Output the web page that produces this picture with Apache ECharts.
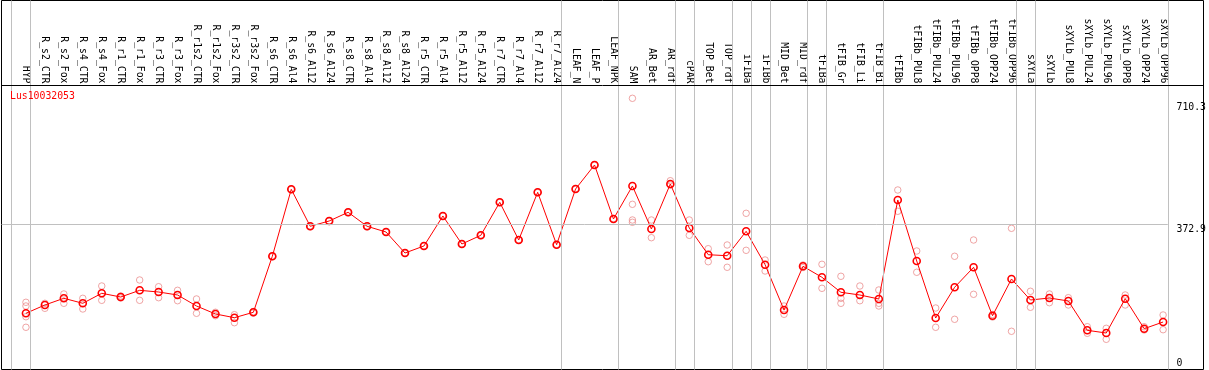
<!DOCTYPE html>
<html>
<head>
<meta charset="utf-8">
<script src="https://cdn.jsdelivr.net/npm/echarts@6/dist/echarts.min.js"></script>
<style>
html,body{margin:0;padding:0;background:#fff;}
#chart{width:1209px;height:370px;}
</style>
</head>
<body>
<div id="chart"></div>
<script>
const title = 'Lus10032053';
const categories = ['HYP','R_s2_CTR','R_s2_Fox','R_s4_CTR','R_s4_Fox','R_r1_CTR','R_r1_Fox','R_r3_CTR','R_r3_Fox','R_r1s2_CTR','R_r1s2_Fox','R_r3s2_CTR','R_r3s2_Fox','R_s6_CTR','R_s6_Al4','R_s6_Al12','R_s6_Al24','R_s8_CTR','R_s8_Al4','R_s8_Al12','R_s8_Al24','R_r5_CTR','R_r5_Al4','R_r5_Al12','R_r5_Al24','R_r7_CTR','R_r7_Al4','R_r7_Al12','R_r7_Al24','LEAF_N','LEAF_P','LEAF_NPK','SAM','AR_Bet','AR_rdf','cPAR','TOP_Bet','TOP_rdf','iFIBa','iFIBb','MID_Bet','MID_rdf','tFIBa','tFIB_Gr','tFIB_Li','tFIB_Bi','tFIBb','tFIBb_PUL8','tFIBb_PUL24','tFIBb_PUL96','tFIBb_OPP8','tFIBb_OPP24','tFIBb_OPP96','sXYLa','sXYLb','sXYLb_PUL8','sXYLb_PUL24','sXYLb_PUL96','sXYLb_OPP8','sXYLb_OPP24','sXYLb_OPP96'];
const means = [125.1,148.2,166.8,152.9,180.7,170.4,189.0,184.3,176.0,145.4,123.2,112.9,127.9,283.6,469.8,367.0,381.7,405.9,367.0,351.1,292.7,312.2,395.6,317.8,341.9,433.7,328.9,461.5,315.8,470.7,537.4,387.3,479.0,359.5,484.6,362.2,288.0,285.2,353.1,260.2,134.3,255.8,225.2,183.5,176.0,164.9,440.1,270.5,112.0,197.4,253.0,118.4,220.5,162.1,167.6,159.3,77.8,70.3,165.7,82.3,100.9];
const replicates = [
  [155.7,145.4,115.6,86.2],[152.9,139.0],[178.8,152.9],[166.8,137.1],[201.0,161.2],[173.2,167.6],[217.7,161.2],[199.0,168.5],[189.0,160.1],[164.9,125.1],[127.9,118.4],[121.2,99.0],[130.0,126.0],
  [284.5,282.7],[470.5,469.0],[368.0,366.0],[382.5,381.0],[407.0,405.0],[368.0,366.0],[352.0,350.2],[293.5,292.0],[313.0,311.4],[396.5,394.8],[318.6,317.0],[342.8,341.0],[434.5,433.0],[329.8,328.0],[462.4,460.6],[316.6,315.0],[471.5,470.0],[538.2,536.6],[388.2,386.4],
  [722.8,428.1,384.5,378.1],[384.5,335.3],[493.7,481.8],[384.5,341.9],[304.7,268.5],[315.0,253.0],[403.1,300.2],[273.3,242.7],[145.4,122.3],[259.4,252.4],
  [261.3,194.6],[228.0,166.8,152.9],[201.0,160.1],[189.9,152.9,145.4],[467.9,408.7],[298.3,239.1],[139.8,86.2],[283.6,108.4],[328.9,177.9],[121.8,114.8],[361.4,75.1],
  [186.3,141.8],[178.8,154.6],[168.5,148.2],[87.8,69.5],[83.4,52.8],[176.0,148.2],[87.8,78.7],[120.4,79.5]
];
const yTickValues = [0, 372.9, 710.3];
const refLineValue = 372.9;
const groupEnds = [-1, 0, 28, 31, 34, 35, 37, 38, 39, 41, 42, 45, 52, 53, 60];

const FONT = 'DejaVu Sans Mono';
const SEP_OFFSET = 0.247;
const headerLineValue = 758.4;

const meanData = means.map((v, i) => [i, v]);
const repData = [];
replicates.forEach((arr, i) => arr.forEach(v => repData.push([i, v])));

const sepLines = groupEnds.map(g => ({ xAxis: g + SEP_OFFSET, lineStyle: { color: '#c0c0c0', width: 1, type: 'solid' } }));
sepLines.push([{ coord: [-1.2895, refLineValue] }, { coord: [60 + SEP_OFFSET, refLineValue], lineStyle: { color: '#c0c0c0', width: 1, type: 'solid' } }]);
sepLines.push({ yAxis: headerLineValue, lineStyle: { color: '#000', width: 1, type: 'solid' } });

const chart = echarts.init(document.getElementById('chart'), null, { renderer: 'canvas' });
chart.setOption({
  animation: false,
  backgroundColor: '#fff',
  title: {
    text: title, left: 10, top: 91, padding: 0,
    textStyle: { color: '#ff0000', fontFamily: FONT, fontSize: 9.8, fontWeight: 'normal' }
  },
  grid: { left: 1.5, top: 0.5, right: 2.5, bottom: 0.5, show: true, borderColor: '#000', borderWidth: 1, backgroundColor: 'transparent' },
  xAxis: {
    type: 'value', position: 'top', min: -1.2895, max: 62.1316, offset: -84,
    axisLine: { show: false, onZero: false }, axisTick: { show: false }, splitLine: { show: false },
    axisLabel: {
      rotate: 90, margin: 1,
      customValues: categories.map((c, i) => i),
      formatter: v => categories[Math.round(v)],
      fontFamily: FONT, fontSize: 9.8, color: '#000'
    }
  },
  yAxis: {
    type: 'value', position: 'right', min: -31.14, max: 994.7,
    axisLine: { show: false, onZero: false }, axisTick: { show: false }, splitLine: { show: false },
    axisLabel: {
      inside: true, align: 'left', verticalAlign: 'top', margin: 27,
      customValues: yTickValues,
      formatter: v => String(v),
      fontFamily: FONT, fontSize: 9.8, color: '#000'
    }
  },
  series: [
    {
      type: 'scatter', data: repData, symbol: 'circle', symbolSize: 6.5, silent: true,
      itemStyle: { color: 'rgba(0,0,0,0)', borderColor: '#eb8f8f', borderWidth: 1 },
      markLine: { silent: true, symbol: 'none', label: { show: false }, data: sepLines }
    },
    {
      type: 'line', data: meanData, symbol: 'circle', symbolSize: 7, showSymbol: true, silent: true,
      lineStyle: { color: '#ff0000', width: 1 },
      itemStyle: { color: 'rgba(0,0,0,0)', borderColor: '#ff0000', borderWidth: 1.6 }
    }
  ]
});
</script>
</body>
</html>
